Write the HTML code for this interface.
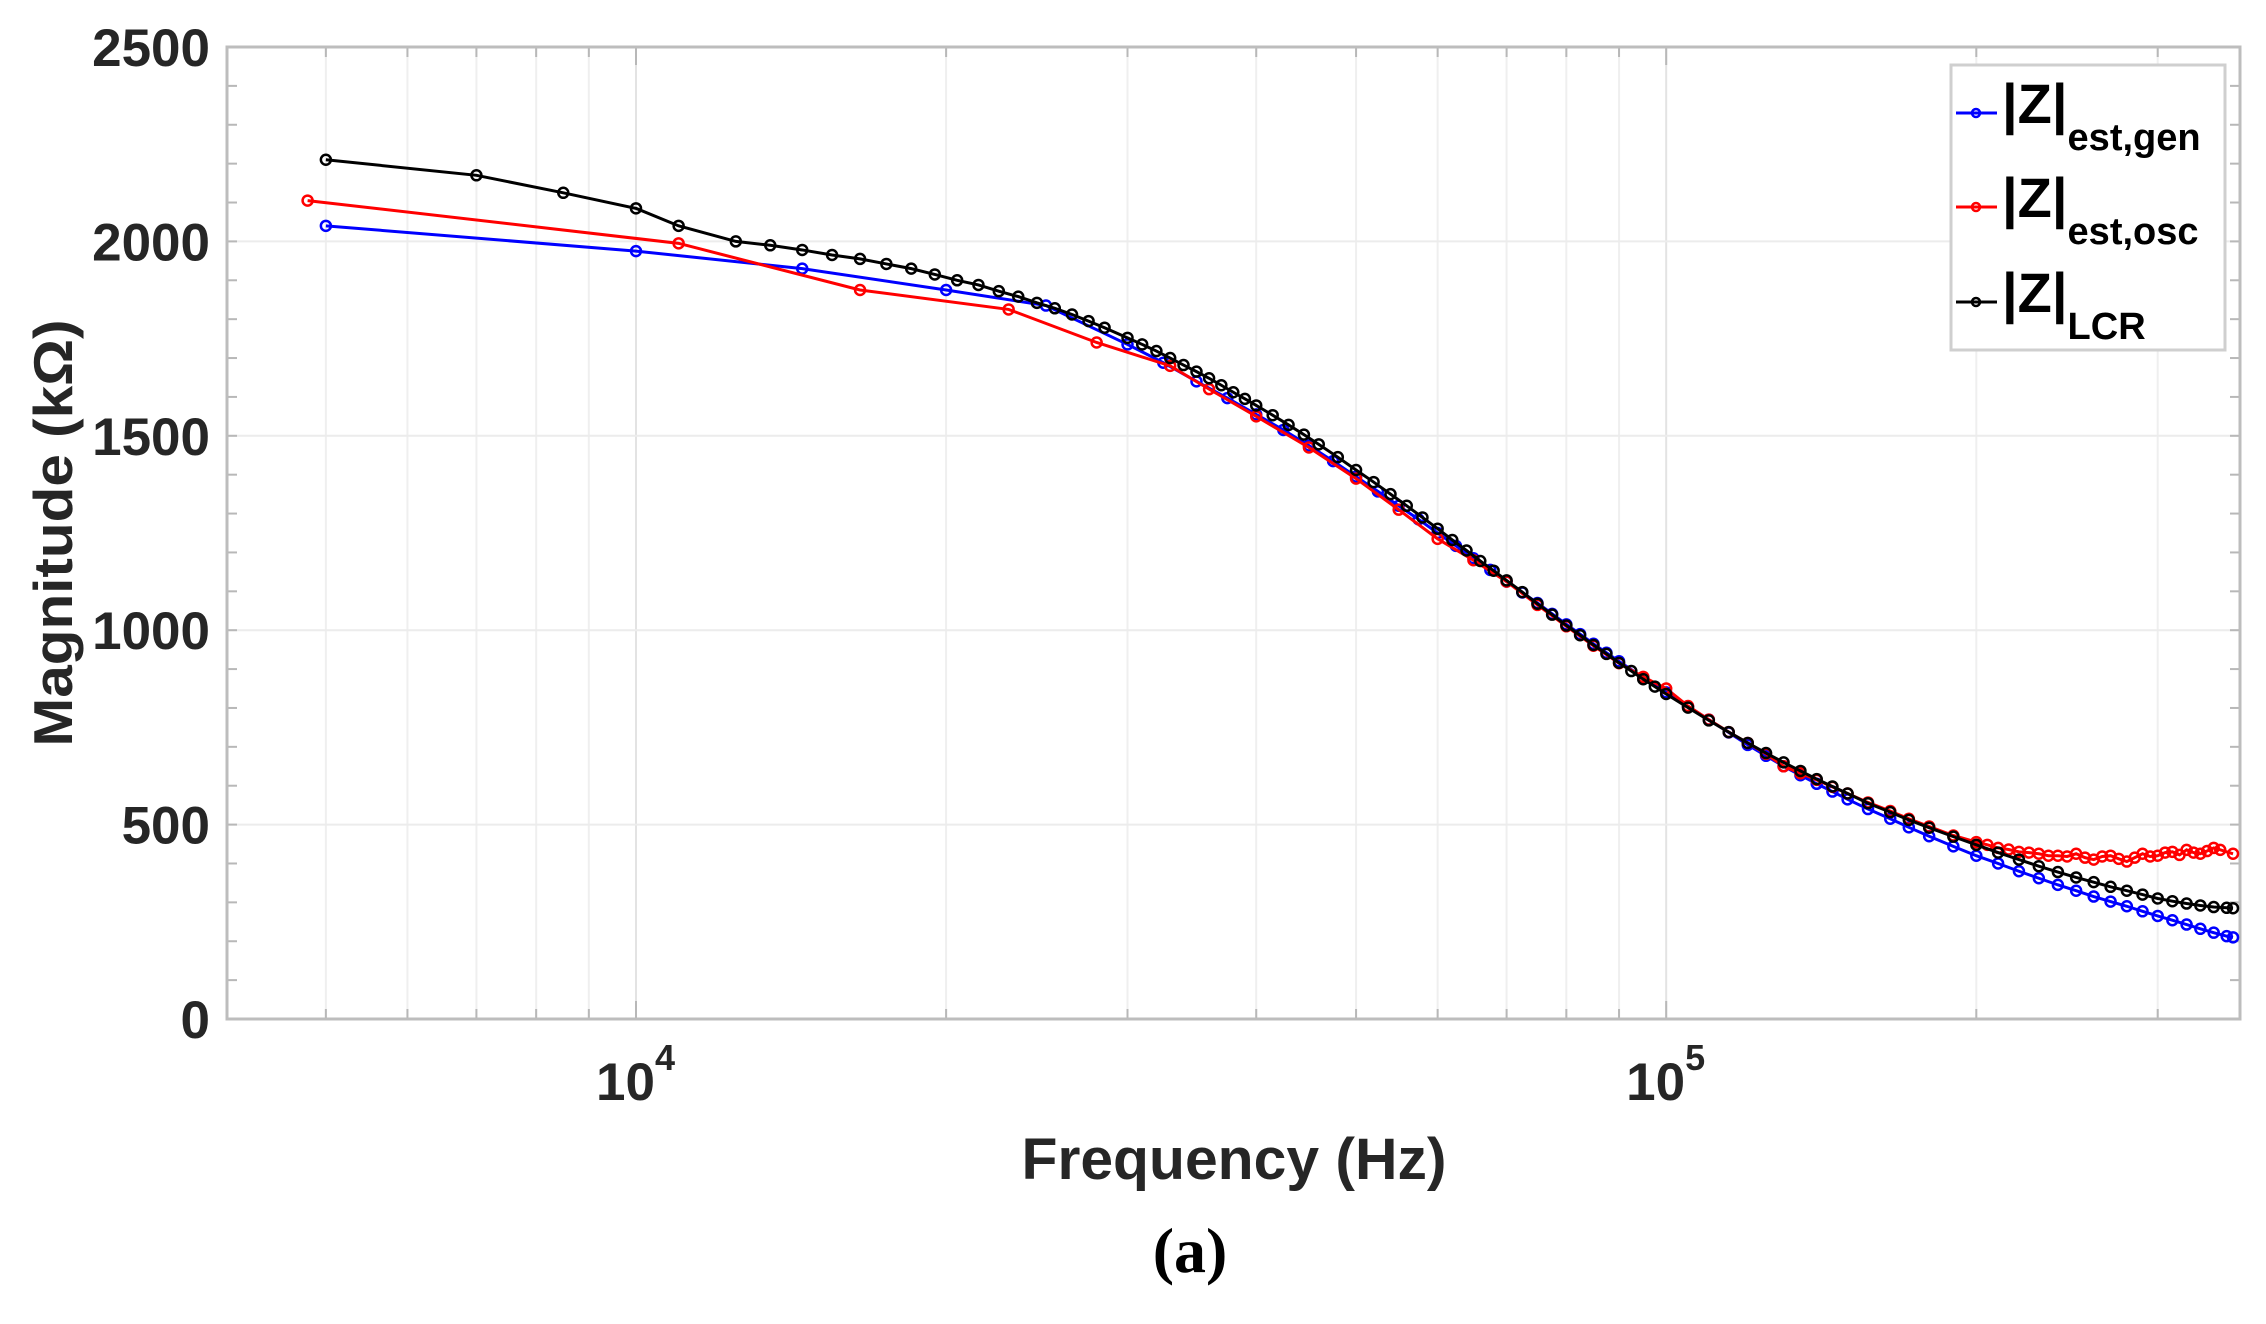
<!DOCTYPE html>
<html><head><meta charset="utf-8"><style>
html,body{margin:0;padding:0;background:#fff;}
svg{display:block;font-family:"Liberation Sans",sans-serif;}
</style></head><body>
<svg id="chart" width="2266" height="1324" viewBox="0 0 2266 1324" xmlns="http://www.w3.org/2000/svg">
<g id="grid"></g>
<g id="axes"></g>
<g id="series"></g>
<text transform="translate(72,533) rotate(-90)" text-anchor="middle" font-size="55" font-weight="bold" fill="#262626" textLength="427" lengthAdjust="spacingAndGlyphs">Magnitude (kΩ)</text>
<text x="1234" y="1179" text-anchor="middle" font-size="58" font-weight="bold" fill="#262626" textLength="425" lengthAdjust="spacingAndGlyphs">Frequency (Hz)</text>
<text x="1190" y="1272" text-anchor="middle" font-size="64" font-weight="bold" font-family="Liberation Serif, serif" fill="#000">(a)</text>
<g>
<rect x="1951" y="65" width="274" height="285" fill="#fff" stroke="#cfcfcf" stroke-width="3"/>
<g>
<line x1="1956" y1="113" x2="1997" y2="113" stroke="#0000ff" stroke-width="3"/><circle cx="1976" cy="113" r="4" fill="none" stroke="#0000ff" stroke-width="2.5"/>
<text x="2002" y="123" font-size="56" font-weight="bold" fill="#000">|Z|<tspan font-size="38" dy="27">est,gen</tspan></text></g>
<g>
<line x1="1956" y1="207" x2="1997" y2="207" stroke="#ff0000" stroke-width="3"/><circle cx="1976" cy="207" r="4" fill="none" stroke="#ff0000" stroke-width="2.5"/>
<text x="2002" y="217" font-size="56" font-weight="bold" fill="#000">|Z|<tspan font-size="38" dy="27">est,osc</tspan></text></g>
<g>
<line x1="1956" y1="302" x2="1997" y2="302" stroke="#000" stroke-width="3"/><circle cx="1976" cy="302" r="4" fill="none" stroke="#000" stroke-width="2.5"/>
<text x="2002" y="312" font-size="56" font-weight="bold" fill="#000">|Z|<tspan font-size="38" dy="27">LCR</tspan></text></g>
</g>
</svg>
<script>
const yTicks=[0,500,1000,1500,2000,2500];
const xDecades=[4,5];
const lcrF=[5,7,8.5,10,11,12.5,13.5,14.5,15.5,16.5,17.5,18.5,19.5,20.5,21.5,22.5,23.5,24.5,25.5,26.5,27.5,28.5,30,31,32,33,34,35,36,37,38,39,40,41.5,43,44.5,46,48,50,52,54,56,58,60,62,64,66,68,70,72.5,75,77.5,80,82.5,85,87.5,90,92.5,95,97.5,100,105,110,115,120,125,130,135,140,145,150,157,165,172,180,190,200,210,220,230,240,250,260,270,280,290,300,310,320,330,340,350,355];
const lcrZ=[2210,2170,2125,2085,2040,2000,1990,1978,1965,1955,1942,1930,1915,1900,1888,1872,1858,1842,1828,1812,1795,1778,1752,1735,1718,1700,1682,1665,1648,1630,1612,1595,1578,1553,1528,1503,1478,1445,1412,1381,1350,1320,1290,1261,1232,1205,1178,1153,1128,1098,1068,1040,1012,987,962,939,916,895,874,855,836,801,768,738,710,684,660,638,617,598,580,555,532,512,492,469,448,428,410,393,378,364,352,340,330,320,310,303,297,292,288,286,285];
const genF=[5,10,14.5,20,25,30,32.5,35,37.5,40,42.5,45,47.5,50,52.5,55,57.5,60,62.5,65,67.5,70,72.5,75,77.5,80,82.5,85,87.5,90,95,100,105,110,115,120,125,130,135,140,145,150,157,165,172,180,190,200,210,220,230,240,250,260,270,280,290,300,310,320,330,340,350,355];
const genZ=[2040,1975,1930,1875,1835,1735,1688,1640,1597,1555,1515,1475,1435,1395,1357,1320,1285,1250,1217,1185,1155,1125,1097,1070,1042,1015,990,965,942,920,878,840,804,770,737,705,677,650,627,605,585,565,540,515,493,470,444,420,400,380,362,345,330,315,302,290,277,265,254,243,232,222,213,210];
const oscF=[4.8,11,16.5,23,28,33,36,40,45,50,55,60,65,70,75,80,85,90,95,100,105,110,115,120,125,130,135,140,145,150,157,165,172,180,190,200,205,210,215,220,225,230,235,240,245,250,255,260,265,270,275,280,285,290,295,300,305,310,315,320,325,330,335,340,345,355];
const oscZ=[2105,1995,1875,1825,1740,1680,1620,1550,1470,1390,1310,1235,1180,1125,1065,1010,960,915,880,850,805,770,738,710,682,650,632,615,597,580,557,535,515,495,472,455,448,440,436,430,428,425,420,420,418,425,415,410,418,420,412,405,415,425,418,420,428,430,422,435,428,425,432,440,435,425];

const L=227,R=2240,T=47,B=1019,lmin=3.603,lmax=5.557;
const xs=fk=>L+(Math.log10(fk*1000)-lmin)/(lmax-lmin)*(R-L);
const ys=v=>B-v/2500*(B-T);
const NS='http://www.w3.org/2000/svg';
function mk(tag,attrs,parent){const e=document.createElementNS(NS,tag);for(const k in attrs)e.setAttribute(k,attrs[k]);parent.appendChild(e);return e;}
const grid=document.getElementById('grid'),axes=document.getElementById('axes'),series=document.getElementById('series');
for(let d=3;d<=5;d++){for(let m=1;m<=9;m++){const f=m*Math.pow(10,d);const lf=Math.log10(f);if(lf<lmin||lf>lmax)continue;const x=xs(f/1000);
const g=mk('line',{x1:x,y1:T,x2:x,y2:B,stroke:m===1?'#e3e3e3':'#efefef','stroke-width':2},grid);


const t1=mk('line',{x1:x,y1:B,x2:x,y2:B-(m===1?18:10),stroke:'#b8b8b8','stroke-width':2},axes);


const t2=mk('line',{x1:x,y1:T,x2:x,y2:T+(m===1?18:10),stroke:'#b8b8b8','stroke-width':2},axes);

}}
for(let v=0;v<=2500;v+=100){const y=ys(v);const major=v%500===0;
if(major&&v>0&&v<2500){const g=mk('line',{x1:L,y1:y,x2:R,y2:y,stroke:'#ececec','stroke-width':2},grid);

}
const t=mk('line',{x1:L,y1:y,x2:L+10,y2:y,stroke:'#b8b8b8','stroke-width':2},axes);


const t2=mk('line',{x1:R,y1:y,x2:R-10,y2:y,stroke:'#b8b8b8','stroke-width':2},axes);

}
const box=mk('rect',{x:L,y:T,width:R-L,height:B-T,fill:'none',stroke:'#bdbdbd','stroke-width':3},axes);


yTicks.forEach(v=>{const t=mk('text',{x:210,y:ys(v)+19,'text-anchor':'end','font-size':53,'font-weight':'bold',fill:'#262626'},axes);t.textContent=v;

});
xDecades.forEach(d=>{const x=xs(Math.pow(10,d)/1000);const t=mk('text',{x:x-40,y:1100,'font-size':53,'font-weight':'bold',fill:'#262626'},axes);t.textContent='10';
const s=mk('tspan',{'font-size':36,dy:-30},t);s.textContent=d;

});
function draw(F,Z,color,name){const g=mk('g',{},series);


const p=mk('polyline',{points:F.map((f,i)=>xs(f)+','+ys(Z[i])).join(' '),fill:'none',stroke:color,'stroke-width':3},g);


F.forEach((f,i)=>{const c=mk('circle',{cx:xs(f),cy:ys(Z[i]),r:5,fill:'none',stroke:color,'stroke-width':2.5},g);

});}
draw(genF,genZ,'#0000ff','series-est-gen');
draw(oscF,oscZ,'#ff0000','series-est-osc');
draw(lcrF,lcrZ,'#000000','series-lcr');
</script>
</body></html>
